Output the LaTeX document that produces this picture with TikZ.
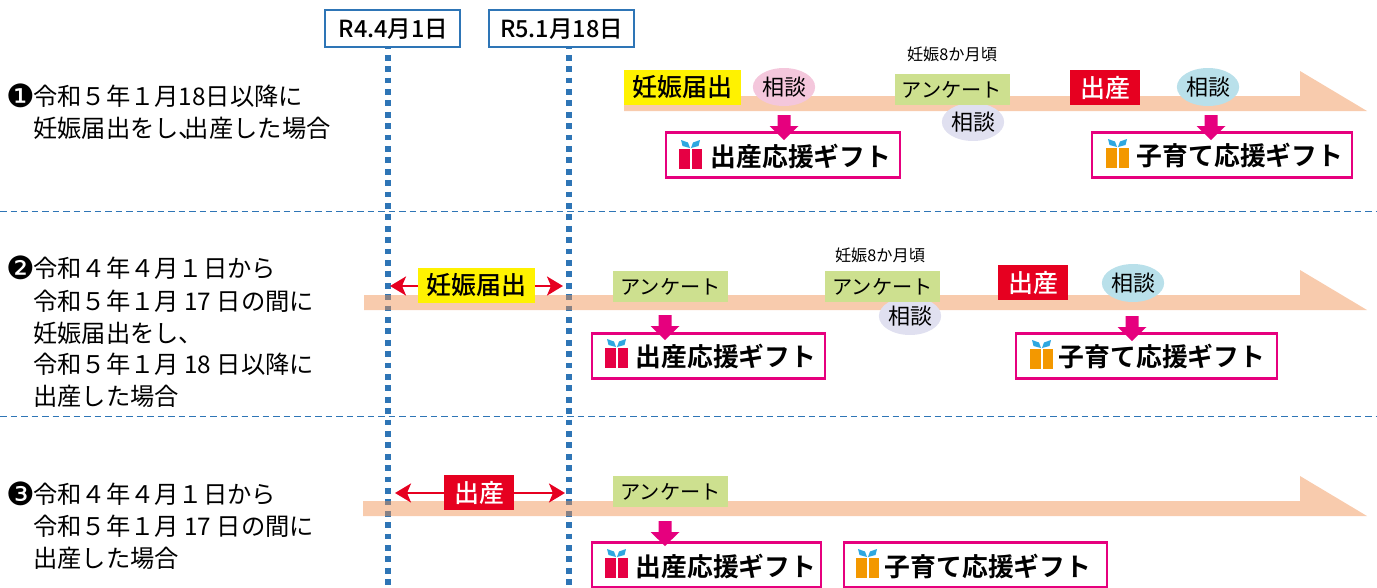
\documentclass[tikz,border=0pt]{standalone}
\usepackage{fontspec}
\usetikzlibrary{shapes.geometric,arrows.meta,calc}
\setmainfont{Noto Sans CJK JP}[BoldFont={Noto Sans CJK JP Bold}]
\newfontfamily\medfont{Noto Sans CJK JP Medium}
\newfontfamily\symfont{DejaVu Sans}
\definecolor{lineblue}{HTML}{2E75B6}
\definecolor{barorange}{HTML}{F08F4E}
\definecolor{giftpink}{HTML}{E6007E}
\definecolor{giftred}{HTML}{E60044}
\definecolor{giftorange}{HTML}{F39800}
\definecolor{ribbon}{HTML}{2EA7E0}
\definecolor{ankgreen}{HTML}{CDE08F}
\definecolor{soudanpink}{HTML}{F4C7DC}
\definecolor{soudanlav}{HTML}{E0E0F0}
\definecolor{soudanblue}{HTML}{B9E0EA}
\definecolor{redlabel}{HTML}{E60020}
\newcommand{\fs}[1]{\fontsize{#1}{#1}\selectfont}
\tikzset{
  dotline/.style={draw=lineblue,line width=5.5pt,dash pattern=on 5.8pt off 5.6pt},
  sepline/.style={draw=lineblue,line width=1pt,dash pattern=on 6.5pt off 4pt},
  barshape/.style={fill=barorange,fill opacity=.464},
  datebox/.style={draw=lineblue,line width=1.3pt,fill=white,inner sep=0pt,font=\medfont\fs{23.5}},
  lefttext/.style={anchor=west,inner sep=0pt,font=\fs{24.3}},
  bullet/.style={anchor=center,inner sep=0pt,font=\symfont\fs{32}},
  yellowlabel/.style={fill=yellow,inner sep=0pt,minimum width=117pt,minimum height=35pt,font=\medfont\fs{25}},
  ank/.style={fill=ankgreen,inner sep=0pt,minimum width=115pt,minimum height=31pt,font=\fs{20.2}},
  soudan/.style={ellipse,inner sep=0pt,minimum width=62pt,minimum height=38pt,font=\fs{22}},
  birth/.style={fill=redlabel,text=white,inner sep=0pt,minimum width=70pt,minimum height=35pt,font=\medfont\fs{25}},
  month/.style={inner sep=0pt,font=\fs{16.2}},
  giftframe/.style={draw=giftpink,line width=2.5pt,fill=white,inner sep=0pt,minimum height=45pt},
  gifttext/.style={inner sep=0pt,font=\bfseries\fs{25.8}},
  redarrow/.style={draw=redlabel,line width=2.5pt,-{Stealth[length=16pt,width=19pt,inset=4pt]}},
}
% block arrow whose tip touches the top of a gift frame
\newcommand{\pinkarrow}[2]{\fill[giftpink] ($(#1,#2)+(-6.5,-25)$) -- ++(13,0) -- ++(0,11) -- ++(8,0) -- ($(#1,#2)$) -- ++(-14.5,-14) -- ++(8,0) -- cycle;}
% gift icon: left edge, top of ribbon
\newcommand{\gifticon}[3]{%
  \fill[#3] (#1,#2+8.5) rectangle +(10.5,20);
  \fill[#3] (#1+12.5,#2+8.5) rectangle +(10.5,20);
  \fill[ribbon] (#1+2,#2) -- (#1+9,#2+2.5) -- (#1+11,#2+8) -- (#1+3.5,#2+6) -- cycle;
  \fill[ribbon] (#1+21,#2) -- (#1+14,#2+2.5) -- (#1+12,#2+8) -- (#1+19.5,#2+6) -- cycle;
}
\begin{document}
\begin{tikzpicture}[x=1pt,y=-1pt]
\useasboundingbox (0,0) rectangle (1377,587);
% separators
\coordinate (sa1) at (0,211); \coordinate (sa2) at (1377,211);
\coordinate (sb1) at (0,416); \coordinate (sb2) at (1377,416);
\draw[sepline] (sa1) -- (sa2);
\draw[sepline] (sb1) -- (sb2);
% dotted lines and date boxes
\coordinate (e1) at (388,587); \coordinate (e2) at (569,587);
\coordinate (st1) at (388,43.4); \coordinate (st2) at (569,43.4);
\draw[dotline] (st1) -- (e1);
\draw[dotline] (st2) -- (e2);
\node[datebox,minimum width=135pt,minimum height=37pt,text depth=0pt] (d1) at (392.5,28.5) {\hspace{2pt}R4.4月1日};
\node[datebox,minimum width=145pt,minimum height=37pt,text depth=0pt] (d2) at (561.5,28.5) {R5.1月18日};
% timeline bars
\fill[barshape] (624,96) -- (1300,96) -- (1300,71) -- (1367,111) -- (624,111) -- cycle;
\fill[barshape] (364,295) -- (1300,295) -- (1300,270) -- (1367,310) -- (364,310) -- cycle;
\fill[barshape] (363,501) -- (1300,501) -- (1300,476) -- (1367,516) -- (363,516) -- cycle;
% left texts
\node[bullet] (n1) at (20.5,96) {❶};
\node[lefttext] (t1a) at (33,96) {令和５年１月18日以降に};
\node[lefttext] (t1b) at (33,128) {妊娠届出をし\hspace{-1pt}、\hspace{-17.5pt}出産した場合};
\node[bullet] (n2) at (20.5,268) {❷};
\node[lefttext] (t2a) at (33,268) {令和４年４月１日から};
\node[lefttext] (t2b) at (33,301) {令和５年１月 17 日の間に};
\node[lefttext] (t2c) at (33,333) {妊娠届出をし、};
\node[lefttext] (t2d) at (33,364) {令和５年１月 18 日以降に};
\node[lefttext] (t2e) at (33,396) {出産した場合};
\node[bullet] (n3) at (20.5,494) {❸};
\node[lefttext] (t3a) at (33,494) {令和４年４月１日から};
\node[lefttext] (t3b) at (33,526) {令和５年１月 17 日の間に};
\node[lefttext] (t3c) at (33,558) {出産した場合};
% row 1
\node[soudan,fill=soudanlav] (s1b) at (973,122) {相談};
\node[yellowlabel] (y1) at (682.5,87.5) {妊娠届出};
\node[soudan,fill=soudanpink] (s1a) at (784,87) {相談};
\node[ank] (a1) at (952,89.5) {アンケート};
\node[month] (m1) at (952,54) {妊娠8か月頃};
\node[birth] (b1) at (1105,87.5) {出産};
\node[soudan,fill=soudanblue] (s1c) at (1208,87) {相談};
\node[giftframe,minimum width=234pt] (g1a) at (783,155) {};
\node[gifttext] (g1at) at (801,156) {出産応援ギフト};
\gifticon{679}{140}{giftred}
\node[giftframe,minimum width=260pt] (g1b) at (1222,155) {};
\node[gifttext] (g1bt) at (1240,155) {子育て応援ギフト};
\gifticon{1106}{139}{giftorange}
\pinkarrow{784}{140}
\pinkarrow{1211}{140}
% row 2
\node[soudan,fill=soudanlav] (s2b) at (910,316) {相談};
\node[yellowlabel] (y2) at (476.5,285.5) {妊娠届出};
\coordinate (l2) at (390,286); \coordinate (r2) at (563,286);
\draw[redarrow] (y2.west |- l2) -- (l2);
\draw[redarrow] (y2.east |- r2) -- (r2);
\node[ank] (a2a) at (670.5,286.5) {アンケート};
\node[ank] (a2b) at (882.5,286.5) {アンケート};
\node[month] (m2) at (880,255) {妊娠8か月頃};
\node[birth] (b2) at (1033,282.5) {出産};
\node[soudan,fill=soudanblue] (s2c) at (1133,283) {相談};
\node[giftframe,minimum width=233pt] (g2a) at (708.5,356) {};
\node[gifttext] (g2at) at (726,356) {出産応援ギフト};
\gifticon{605}{339}{giftred}
\node[giftframe,minimum width=261pt] (g2b) at (1146.5,356) {};
\node[gifttext] (g2bt) at (1162,356) {子育て応援ギフト};
\gifticon{1030}{340}{giftorange}
\pinkarrow{665}{340}
\pinkarrow{1132}{341}
% row 3
\node[birth] (b3) at (479,492.5) {出産};
\coordinate (l3) at (395,493); \coordinate (r3) at (565,493);
\draw[redarrow] (b3.west |- l3) -- (l3);
\draw[redarrow] (b3.east |- r3) -- (r3);
\node[ank] (a3) at (670.5,491.5) {アンケート};
\node[giftframe,minimum width=229pt] (g3a) at (706.5,565) {};
\node[gifttext] (g3at) at (726,566) {出産応援ギフト};
\gifticon{605}{549}{giftred}
\node[giftframe,minimum width=263pt] (g3b) at (975.5,565) {};
\node[gifttext] (g3bt) at (988,566) {子育て応援ギフト};
\gifticon{856}{549}{giftorange}
\pinkarrow{665}{546}
\end{tikzpicture}
\end{document}
